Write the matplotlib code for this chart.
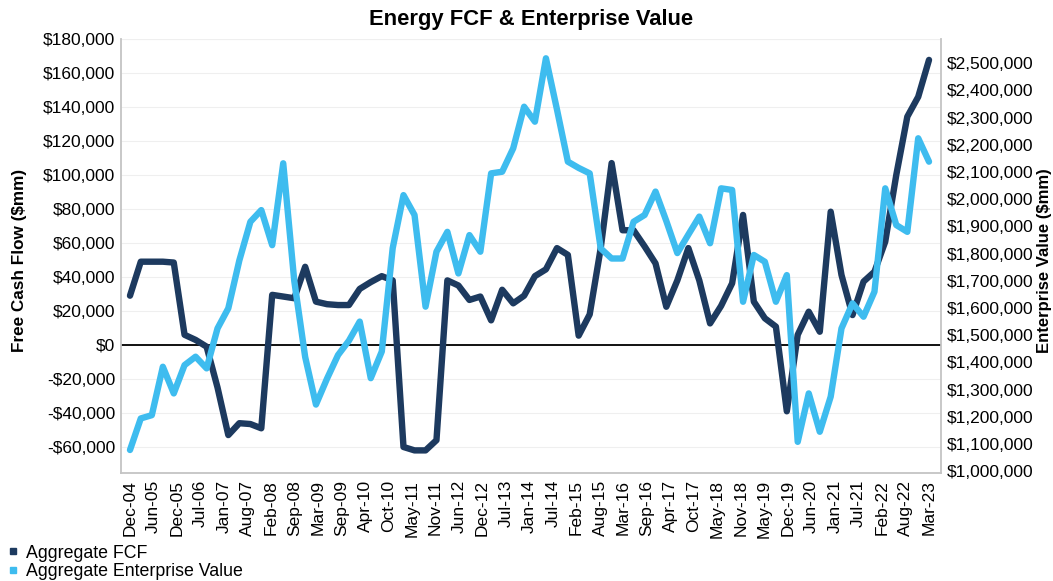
import numpy as np
import pandas as pd
import matplotlib
matplotlib.use("Agg")
import matplotlib.pyplot as plt
from matplotlib.lines import Line2D

plt.rcParams['font.family'] = ['Liberation Sans', 'DejaVu Sans']

# ---- data ($mm), quarterly Dec-04 .. Mar-23 ----
dates = pd.date_range('2004-12-01', '2023-03-01', freq='3MS')

fcf = [29000, 49000, 49000, 49000, 48500, 6000, 3000, -1000, -25000, -53000,
       -46000, -46500, -49000, 29500, 28500, 27500, 46000, 25500, 24000, 23500,
       23500, 33000, 37000, 40500, 38000, -60000, -62000, -62000, -56000, 38000,
       35000, 26500, 28500, 14500, 32500, 24500, 29000, 40500, 44500, 57000,
       53000, 5500, 18000, 57000, 107000, 67500, 67500, 58000, 48000, 22500,
       38000, 57000, 38000, 12700, 23000, 36300, 76500, 25500, 15700, 10800,
       -39000, 6000, 19600, 7800, 78400, 41200, 17600, 37300, 43100, 60800,
       100000, 134300, 146000, 167700]

ev = [1078000, 1194000, 1206000, 1384000, 1286000, 1390000, 1421000, 1378000, 1525000, 1599000,
      1775000, 1917000, 1960000, 1831000, 2132000, 1700000, 1420000, 1245000, 1340000, 1427000,
      1480000, 1550000, 1342000, 1440000, 1820000, 2015000, 1942000, 1605000, 1807000, 1880000,
      1727000, 1868000, 1807000, 2095000, 2101000, 2187000, 2340000, 2285000, 2518000, 2330000,
      2138000, 2115000, 2095000, 1819000, 1782000, 1782000, 1917000, 1942000, 2028000, 1920000,
      1802000, 1870000, 1936000, 1838000, 2040000, 2034000, 1623000, 1795000, 1770000, 1623000,
      1721000, 1108000, 1286000, 1145000, 1274000, 1525000, 1617000, 1568000, 1660000, 2040000,
      1905000, 1880000, 2224000, 2138000]

tick_labels = ['Dec-04', 'Jun-05', 'Dec-05', 'Jul-06', 'Jan-07', 'Aug-07', 'Feb-08', 'Sep-08',
               'Mar-09', 'Sep-09', 'Apr-10', 'Oct-10', 'May-11', 'Nov-11', 'Jun-12', 'Dec-12',
               'Jul-13', 'Jan-14', 'Jul-14', 'Feb-15', 'Aug-15', 'Mar-16', 'Sep-16', 'Apr-17',
               'Oct-17', 'May-18', 'Nov-18', 'May-19', 'Dec-19', 'Jun-20', 'Jan-21', 'Jul-21',
               'Feb-22', 'Aug-22', 'Mar-23']
tick_dates = pd.date_range('2004-12-01', periods=len(tick_labels), freq='196D')

fcf_ticks = list(range(-60000, 180001, 20000))
ev_ticks = list(range(1000000, 2500001, 100000))

title = 'Energy FCF & Enterprise Value'
series_names = ['Aggregate FCF', 'Aggregate Enterprise Value']

C_FCF = '#1d3a5f'
C_EV = '#3ebcef'


def money(v):
    return f"-${abs(v):,.0f}" if v < 0 else f"${v:,.0f}"


W, H = 1053, 581
fig = plt.figure(figsize=(W / 100, H / 100), dpi=100)
L, R, T, B = 121, 941, 39, 473
ax = fig.add_axes([L / W, 1 - B / H, (R - L) / W, (B - T) / H])
ax2 = ax.twinx()

ax.set_ylim(-75300, 180000)
ax2.set_ylim(993400, 2589000)
ax.set_xlim(dates[0] - pd.Timedelta(days=75), dates[-1] + pd.Timedelta(days=100))

for yv in fcf_ticks + [180000]:
    ax.axhline(yv, color='#efefef', lw=0.8, zorder=0)
ax.axhline(0, color='black', lw=1.3, zorder=1)

ax.plot(dates, fcf, color=C_FCF, lw=4.6, solid_joinstyle='round', solid_capstyle='round', zorder=3)
ax2.plot(dates, ev, color=C_EV, lw=4.6, solid_joinstyle='round', solid_capstyle='round', zorder=3)

ax.set_yticks(fcf_ticks)
ax.set_yticklabels([money(v) for v in fcf_ticks])
ax2.set_yticks(ev_ticks)
ax2.set_yticklabels([money(v) for v in ev_ticks])
ax.set_xticks(tick_dates)
ax.set_xticklabels(tick_labels, rotation=90)

ax.tick_params(axis='y', length=0, pad=4, labelsize=12.5)
ax2.tick_params(axis='y', length=0, pad=4, labelsize=12.5)
ax.tick_params(axis='x', length=0, pad=5, labelsize=12.5)

for s in ['top', 'right']:
    ax.spines[s].set_visible(False)
for s in ['top', 'left', 'bottom']:
    ax2.spines[s].set_visible(False)
for sp in [ax.spines['left'], ax.spines['bottom'], ax2.spines['right']]:
    sp.set_color('#c4c4c4')
    sp.set_linewidth(1.3)

ax.set_ylabel('Free Cash Flow ($mm)', fontsize=12.3, fontweight='bold')
ax.yaxis.set_label_coords((27 - L) / (R - L), 0.49)
ax2.set_ylabel('Enterprise Value ($mm)', fontsize=12.0, fontweight='bold', rotation=90)
ax2.yaxis.set_label_coords((1037 - L) / (R - L), 0.49)

fig.text(531 / W, 1 - 19.5 / H, title, ha='center', va='center', fontsize=15.8, fontweight='bold')

handles = [Line2D([], [], marker='s', ls='none', color=C_FCF, markersize=4.5),
           Line2D([], [], marker='s', ls='none', color=C_EV, markersize=4.5)]
fig.legend(handles, series_names, loc='upper left', bbox_to_anchor=(8.6 / W, 1 - 544.5 / H),
           frameon=False, fontsize=12.8, handlelength=0.5, handletextpad=0.5,
           labelspacing=0.08, borderpad=0, borderaxespad=0)

fig.savefig('out.png', dpi=100)
